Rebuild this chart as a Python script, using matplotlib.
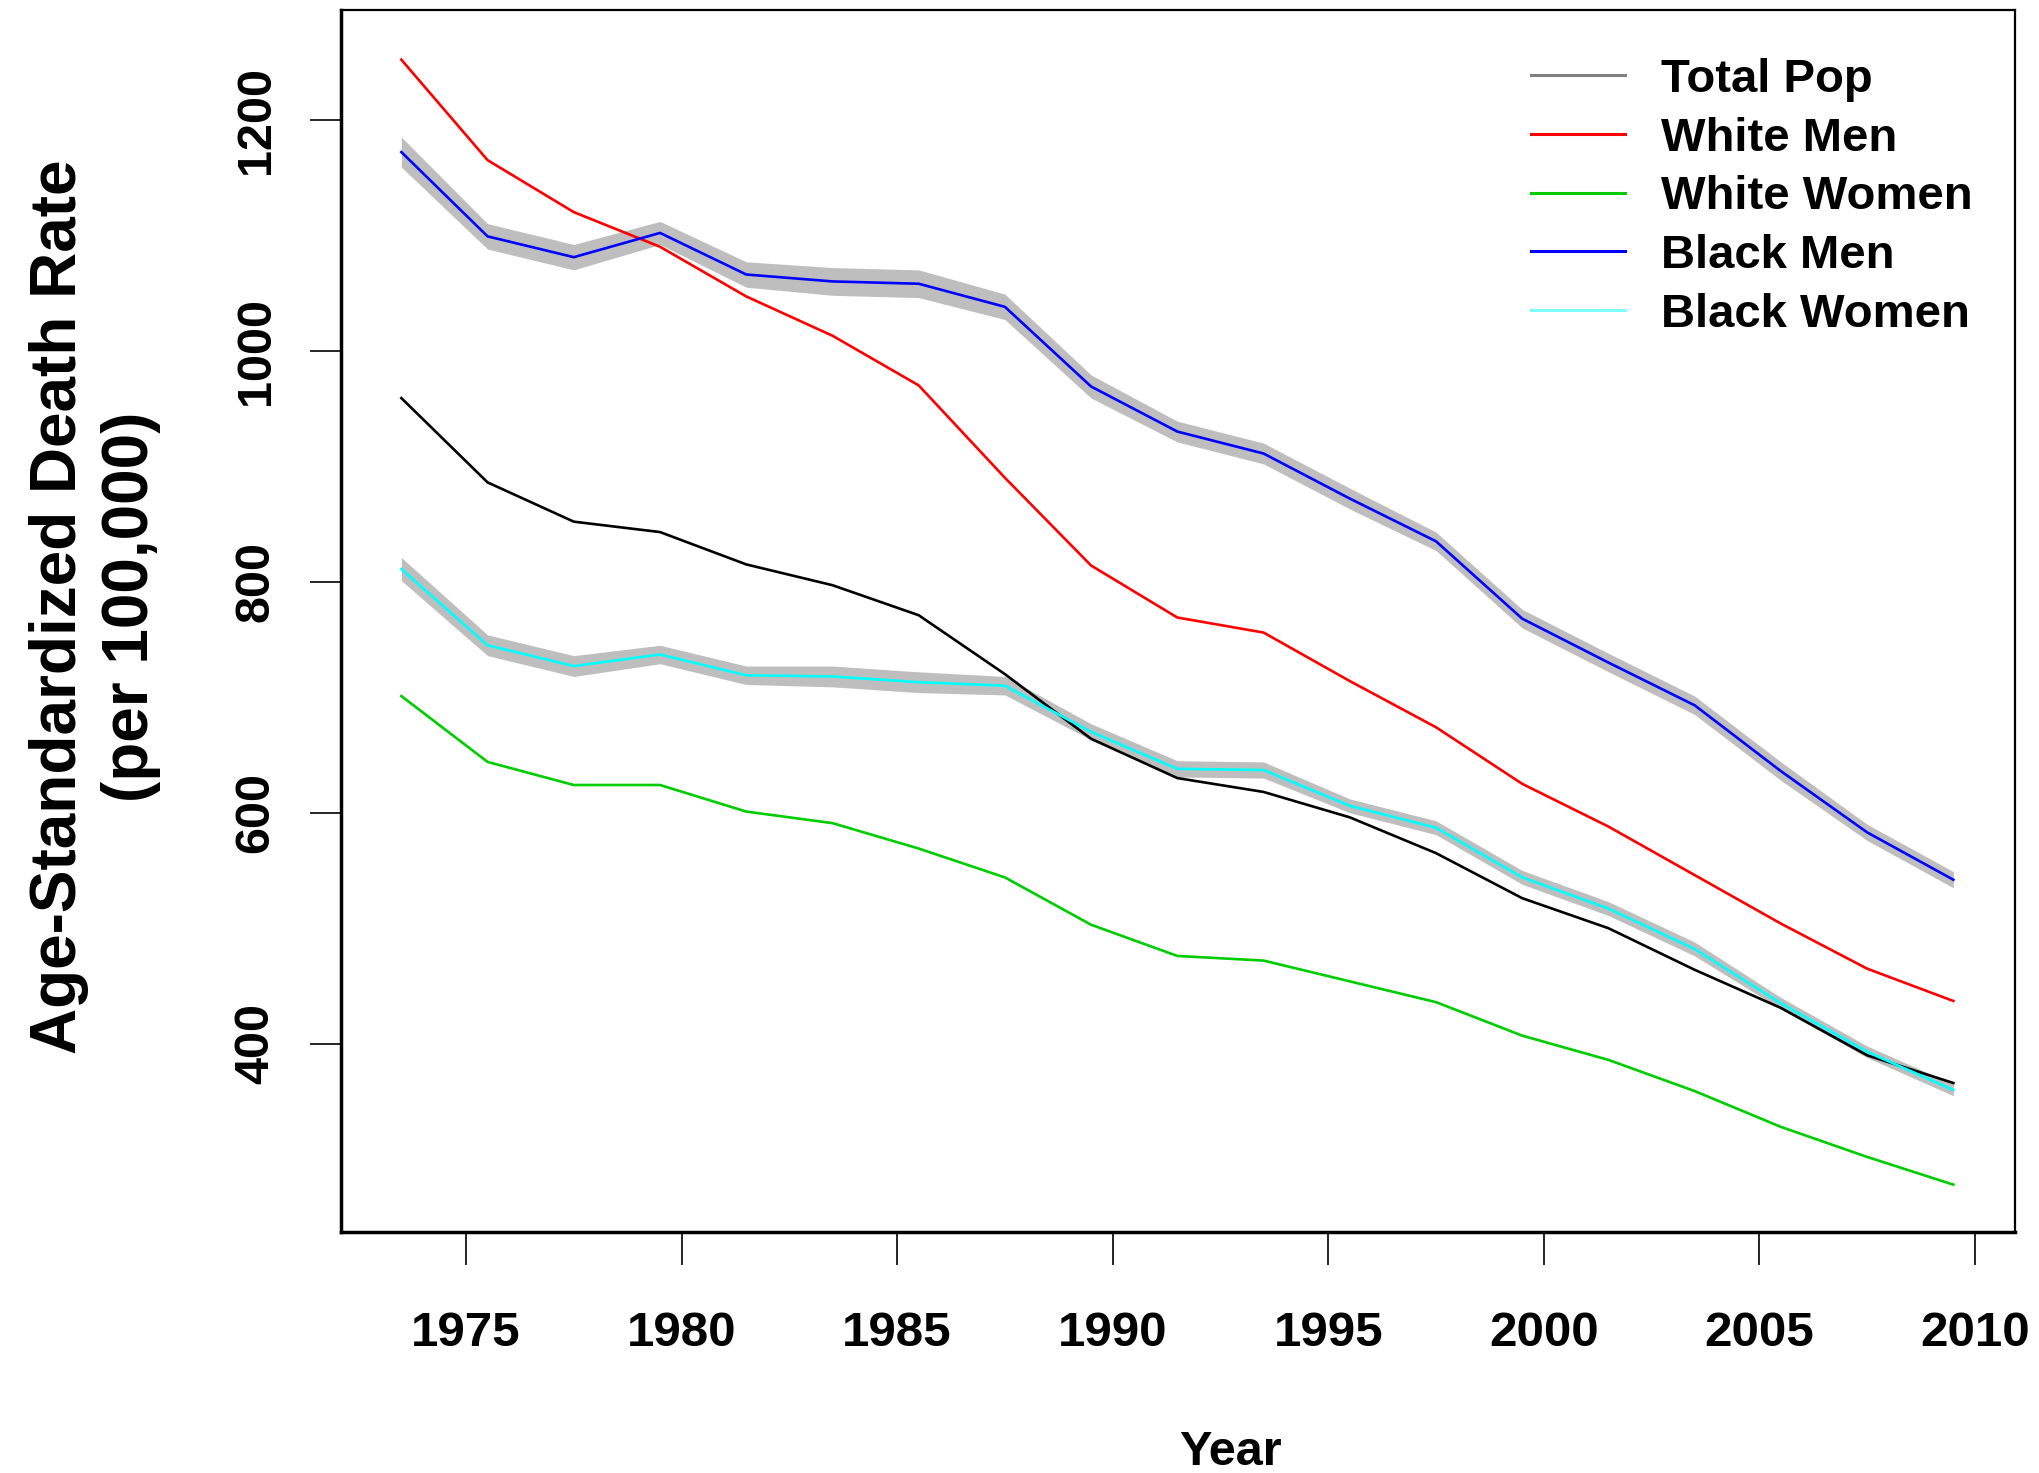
import numpy as np
import matplotlib
matplotlib.use('Agg')
import matplotlib.pyplot as plt
from matplotlib.lines import Line2D

# DATA (age-standardized death rate per 100,000)
years = [1973.5, 1975.5, 1977.5, 1979.5, 1981.5, 1983.5, 1985.5, 1987.5, 1989.5, 1991.5,
         1993.5, 1995.5, 1997.5, 1999.5, 2001.5, 2003.5, 2005.5, 2007.5, 2009.5]
total_pop = [959, 886, 852, 843, 815, 797, 771, 720, 664, 630, 618, 596, 565, 526, 500, 464, 431, 390, 366]
white_men = [1252, 1165, 1120, 1090, 1047, 1013, 970, 890, 814, 769, 756, 714, 674, 625, 588, 546, 504, 465, 437]
white_women = [701, 644, 624, 624, 601, 591, 569, 544, 503, 476, 472, 454, 436, 407, 386, 359, 328, 302, 278]
black_men = [1172, 1099, 1081, 1102, 1066, 1060, 1058, 1038, 969, 930, 911, 872, 835, 768, 730, 693, 636, 583, 542]
black_women = [811, 745, 727, 737, 719, 718, 713, 710, 670, 638, 637, 606, 587, 544, 517, 482, 435, 393, 360]
# half width of the grey confidence band
black_men_ci = [13, 11, 11, 10, 11, 12, 12, 11, 10, 9, 9, 9, 8, 8, 8, 8, 8, 7, 7]
black_women_ci = [10, 9, 9, 8, 8, 9, 9, 8, 7, 7, 7, 6, 6, 6, 6, 6, 5, 5, 5]

labels = ['Total Pop', 'White Men', 'White Women', 'Black Men', 'Black Women']
colors = ['black', 'red', '#00cd00', 'blue', '#00ffff']
legend_colors = ['#808080', 'red', '#00cd00', 'blue', '#80ffff']
xticks = [1975, 1980, 1985, 1990, 1995, 2000, 2005, 2010]
yticks = [400, 600, 800, 1000, 1200]

plt.rcParams['font.family'] = ['Liberation Sans', 'DejaVu Sans']
plt.rcParams['font.weight'] = 'bold'

fig = plt.figure(figsize=(20.39, 14.73), dpi=100)
ax = fig.add_axes([341/2039, 1 - 1232/1473, (2015-341)/2039, (1232-10)/1473])

# PLOTTING
x = np.array(years)
bm = np.array(black_men)
bw = np.array(black_women)
ax.fill_between(x, bm - np.array(black_men_ci), bm + np.array(black_men_ci), color='#bebebe', lw=0)
ax.fill_between(x, bw - np.array(black_women_ci), bw + np.array(black_women_ci), color='#bebebe', lw=0)

series = [total_pop, white_men, white_women, black_men, black_women]
for vals, c in zip(series, colors):
    ax.plot(x, vals, color=c, lw=1.9)

ax.set_xlim(1972.1, 2010.93)
ax.set_ylim(237, 1295)
ax.set_xticks(xticks)
ax.set_yticks(yticks)
ax.set_xticklabels([str(t) for t in xticks], fontsize=35.5, fontweight='bold')
ax.set_yticklabels([str(t) for t in yticks], fontsize=35, fontweight='bold',
                   rotation=90, va='center')
ax.tick_params(axis='x', length=24, width=1.2, pad=33)
ax.tick_params(axis='y', length=22, width=1.2, pad=23)

for side in ['left', 'bottom']:
    ax.spines[side].set_linewidth(2.5)
for side in ['top', 'right']:
    ax.spines[side].set_linewidth(1.6)

handles = [Line2D([0], [0], color=c, lw=2.2) for c in legend_colors]
fig.legend(handles, labels, loc='upper left', bbox_to_anchor=(1531/2039, 1 - 58/1473),
           frameon=False, handlelength=2.0, handletextpad=0.75,
           labelspacing=0.31, borderpad=0, borderaxespad=0,
           prop={'weight': 'bold', 'size': 34})

fig.text(95/2039, 1 - 607/1473, 'Age-Standardized Death Rate\n(per 100,000)',
         rotation=90, ha='center', va='center', fontsize=46, fontweight='bold',
         linespacing=1.25)
fig.text(1230/2039, 1 - 1465/1473, 'Year', ha='center', va='baseline',
         fontsize=35, fontweight='bold')

fig.savefig('out.png', dpi=100)
